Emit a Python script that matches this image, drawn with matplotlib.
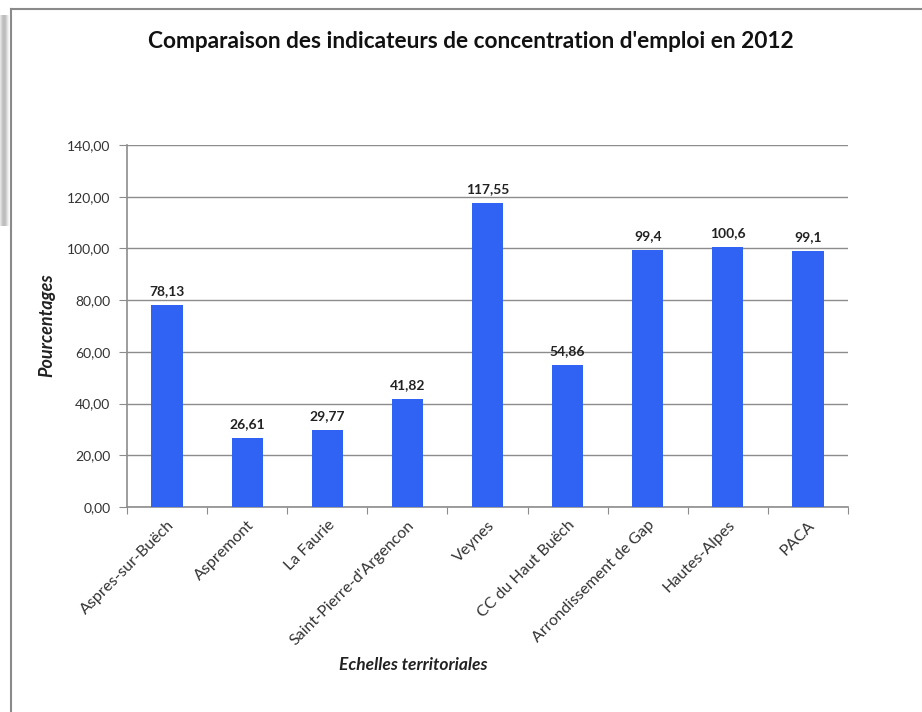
import numpy as np
import matplotlib
matplotlib.use("Agg")
import matplotlib.pyplot as plt
from matplotlib.lines import Line2D

territoires = ["Aspres-sur-Buëch", "Aspremont", "La Faurie",
               "Saint-Pierre-d'Argencon", "Veynes", "CC du Haut Buëch",
               "Arrondissement de Gap", "Hautes-Alpes", "PACA"]
indicateurs = [78.13, 26.61, 29.77, 41.82, 117.55, 54.86, 99.4, 100.6, 99.1]
yticks = [0, 20, 40, 60, 80, 100, 120, 140]

BAR_COLOR = "#3063F4"
GRID_COLOR = "#8c8c8c"
TEXT_COLOR = "#222222"

plt.rcParams["font.family"] = ["Lato", "DejaVu Sans"]

fig = plt.figure(figsize=(9.22, 7.12), dpi=100)
fig.patch.set_facecolor("white")

# page frame and the shadow strip on the left
W, H = 922, 712
fig.add_artist(Line2D([11 / W, 1], [1 - 9 / H, 1 - 9 / H], color="#8a8a8a",
                      lw=1.5, transform=fig.transFigure))
fig.add_artist(Line2D([11 / W, 11 / W], [0, 1 - 9 / H], color="#8a8a8a",
                      lw=1.5, transform=fig.transFigure))
sh = fig.add_axes([0, 1 - 226 / H, 8 / W, 211 / H])
grad = np.array([0.9, 0.82, 0.76, 0.74, 0.75, 0.8, 0.88, 0.95]).reshape(1, -1)
sh.imshow(np.dstack([grad, grad, grad]), aspect="auto", interpolation="bilinear")
sh.axis("off")

ax = fig.add_axes([127 / W, 1 - 507 / H, 721 / W, 362 / H])
x = np.arange(len(territoires))
ax.bar(x, indicateurs, width=0.39, color=BAR_COLOR, zorder=3)

for xi, v in zip(x, indicateurs):
    ax.text(xi, v + 3, f"{v:g}".replace(".", ","), ha="center", va="bottom",
            fontsize=10, fontweight="bold", color=TEXT_COLOR)

ax.set_xlim(-0.5, len(territoires) - 0.5)
ax.set_ylim(0, 140)
ax.set_yticks(yticks)
ax.set_yticklabels([f"{v:.2f}".replace(".", ",") for v in yticks],
                   fontsize=10, color="#333333")
ax.yaxis.grid(True, color=GRID_COLOR, lw=1, zorder=0)

# category ticks sit between bars, labels under bar centres
ax.set_xticks(np.arange(len(territoires) + 1) - 0.5)
ax.set_xticklabels([])
ax.set_xticks(x, minor=True)
ax.set_xticklabels(territoires, minor=True, rotation=45, ha="right",
                   rotation_mode="anchor", fontsize=11.5, color="#333333")
ax.tick_params(axis="x", which="minor", length=0, pad=8)
ax.tick_params(axis="x", which="major", length=5, color=GRID_COLOR)
ax.tick_params(axis="y", length=6, color=GRID_COLOR, pad=6)

for side in ("top", "right"):
    ax.spines[side].set_visible(False)
for side in ("left", "bottom"):
    ax.spines[side].set_color(GRID_COLOR)
    ax.spines[side].set_linewidth(1.2)

fig.text(471 / W, 1 - 42 / H,
         "Comparaison des indicateurs de concentration d'emploi en 2012",
         ha="center", va="center", fontsize=16.3, fontweight="bold",
         color="#111111")
fig.text(47 / W, 1 - 325 / H, "Pourcentages", rotation=90, ha="center",
         va="center", fontsize=13, fontweight="bold", fontstyle="italic",
         color=TEXT_COLOR)
fig.text(413 / W, 1 - 665 / H, "Echelles territoriales", ha="center",
         va="center", fontsize=12.5, fontweight="bold", fontstyle="italic",
         color=TEXT_COLOR)

fig.savefig("out.png", dpi=100)
